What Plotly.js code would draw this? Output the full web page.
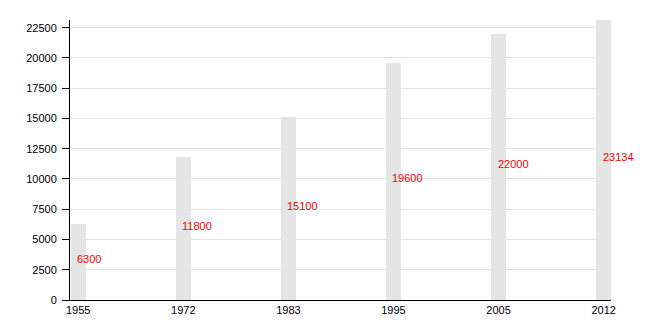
<!DOCTYPE html>
<html><head><meta charset="utf-8">
<script src="https://cdn.plot.ly/plotly-3.0.1.min.js"></script>
<style>html,body{margin:0;padding:0;background:#fff}#chart{width:650px;height:320px}</style>
</head><body><div id="chart"></div>
<script>
const years = ["1955","1972","1983","1995","2005","2012"];
const population = [6300, 11800, 15100, 19600, 22000, 23134];
const yTicks = [0,2500,5000,7500,10000,12500,15000,17500,20000,22500];

const idx = years.map((_, i) => i);
const bars = {
  type: 'bar', x: idx, y: population, width: 0.143,
  marker: {color: '#e5e5e5'}, hoverinfo: 'none', showlegend: false
};
const annotations = population.map((v, i) => ({
  x: i, y: v / 2, xref: 'x', yref: 'y', text: String(v), showarrow: false,
  xanchor: 'left', yanchor: 'middle', xshift: -3, yshift: 3,
  font: {family: 'Liberation Sans, Arial, sans-serif', size: 11, color: '#ff0000'}
}));
const layout = {
  width: 650, height: 320,
  margin: {l: 70, r: 39, t: 20, b: 20},
  paper_bgcolor: '#fff', plot_bgcolor: '#fff',
  font: {family: 'Liberation Sans, Arial, sans-serif', size: 11, color: '#000'},
  xaxis: {
    range: [-0.078, 5.07], tickvals: idx, ticktext: years,
    showgrid: false, zeroline: false, showline: true, linecolor: '#000', linewidth: 1,
    ticks: '', tickfont: {size: 11}
  },
  yaxis: {
    range: [0, 23134], tickvals: yTicks, ticktext: yTicks.map(String),
    showgrid: true, gridcolor: '#e3e3e3', gridwidth: 1, zeroline: false,
    showline: true, linecolor: '#000', linewidth: 1,
    ticks: 'outside', ticklen: 7, tickcolor: '#000', tickfont: {size: 11},
    ticklabelstandoff: 3
  },
  annotations: annotations,
  bargap: 0
};
Plotly.newPlot('chart', [bars], layout, {displayModeBar: false, staticPlot: true});
</script></body></html>
